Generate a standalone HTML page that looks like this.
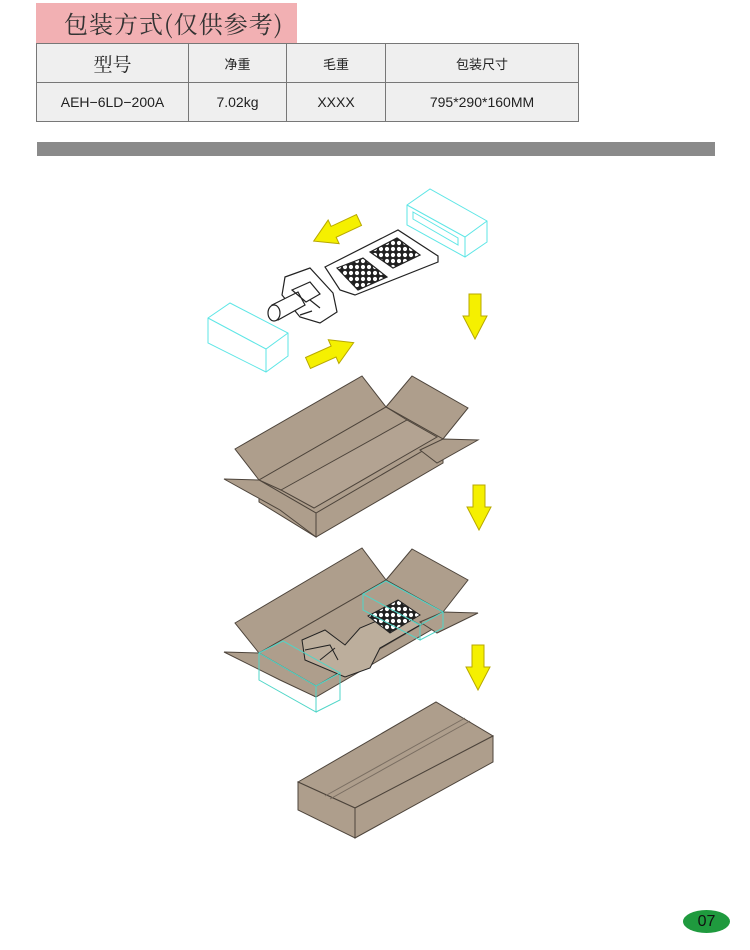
<!DOCTYPE html>
<html><head><meta charset="utf-8"><style>
body{margin:0;background:#fff;width:750px;height:950px;position:relative;overflow:hidden;font-family:"Liberation Sans","Noto Sans CJK SC",sans-serif}
.pk{position:absolute;left:36px;top:3px;width:261px;height:40px;background:#f2b0b3;font-family:"Noto Serif CJK SC",serif;font-size:24px;color:#333;line-height:40px;padding-left:28px;box-sizing:border-box;letter-spacing:1px}
table{position:absolute;left:36px;top:43px;border-collapse:collapse;background:#efefef}
td{border:1px solid #777;text-align:center;color:#222;padding:0}
.g{position:absolute;left:37px;top:142px;width:678px;height:14px;background:#8a8a8a}
.pn{position:absolute;left:683px;top:910px;width:47px;height:23px;border-radius:50%;background:#1f9a3e;color:#111;text-align:center;line-height:23px;font-size:16px}
</style></head><body>
<div class="pk">包装方式(仅供参考)</div>
<table>
<tr style="height:39px"><td style="width:151px;font-size:19px;font-family:'Noto Serif CJK SC',serif">型号</td><td style="width:97px;font-size:13px">净重</td><td style="width:98px;font-size:13px">毛重</td><td style="width:192px;font-size:13px">包装尺寸</td></tr>
<tr style="height:39px;font-size:14px"><td>AEH−6LD−200A</td><td>7.02kg</td><td>XXXX</td><td>795*290*160MM</td></tr>
</table>
<div class="g"></div>
<svg width="750" height="950" style="position:absolute;left:0;top:0">
<defs>
<g id="ad"><polygon points="-6,0 6,0 6,22 12,22 0,45 -12,22 -6,22" fill="#f5f000" stroke="#b8a800" stroke-width="1"/></g>
<g id="ar"><polygon points="0,-6 28,-6 28,-13 50,0 28,13 28,6 0,6" fill="#f5f000" stroke="#b8a800" stroke-width="1"/></g>
<pattern id="led" width="6" height="6" patternUnits="userSpaceOnUse"><rect width="6" height="6" fill="#222"/><circle cx="3" cy="3" r="2.1" fill="#fff"/></pattern>
</defs>
<!-- cyan boxes -->
<g fill="none" stroke="#5ee6e6" stroke-width="1">
<polygon points="407,205 430,189 487,221 487,242 465,257 407,225"/><polyline points="407,205 465,237 487,221"/><line x1="465" y1="237" x2="465" y2="257"/>
<polygon points="413,212 458,238 458,245 413,219"/>
<polygon points="208,318 230,303 288,333 288,356 266,372 208,343"/><polyline points="208,318 266,349 288,333"/><line x1="266" y1="349" x2="266" y2="372"/>
</g>
<!-- arrows -->
<use href="#ar" transform="translate(359,220) rotate(155)"/>
<use href="#ar" transform="translate(308,363) rotate(-24)"/>
<use href="#ad" x="475" y="294"/><use href="#ad" x="479" y="485"/><use href="#ad" x="478" y="645"/>
<!-- lamp -->
<g fill="#fff" stroke="#222" stroke-width="1.2">
<polygon points="325,267 398,230 438,256 438,262 355,295 340,290"/>
<polygon points="285,277 310,268 333,293 337,312 320,323 300,317 282,295"/>
<polygon points="272,305 298,292 305,305 278,320"/>
<ellipse cx="274" cy="313" rx="6" ry="8"/>
<polygon points="337,268 363,258 387,277 358,290" fill="url(#led)"/>
<polygon points="370,252 397,238 420,255 393,268" fill="url(#led)"/>
<path d="M292,290l18,-8l10,12l-14,8z" fill="none"/>
<path d="M310,300l10,8M300,315l12,-4" fill="none"/>
</g>
<!-- open box -->
<g fill="#ae9e8c" stroke="#4d443b" stroke-width="1">
<polygon points="259,502 316,537 443,463 443,440 259,480"/>
<polygon points="235,449 362,376 386,407 259,480"/>
<polygon points="386,407 412,376 468,408 443,439"/>
<polygon points="259,480 386,407 443,439 316,513"/>
<polygon points="281,490 407,420 437,437 314,508" fill="#b3a392"/>
<line x1="259" y1="480" x2="281" y2="490"/><line x1="386" y1="407" x2="407" y2="420"/>
<polygon points="420,450 443,439 478,440 437,463"/>
<polygon points="224,479 259,480 316,513 316,537 280,510"/>
</g>
<!-- filled box -->
<g fill="#ae9e8c" stroke="#4d443b" stroke-width="1">
<polygon points="259,662 316,697 443,623 443,615 259,653"/>
<polygon points="235,623 362,548 386,580 259,653"/>
<polygon points="386,580 412,549 468,580 443,612"/>
<polygon points="259,653 386,580 443,612 316,686"/>
<polygon points="420,622 443,612 478,613 437,633"/>
<polygon points="224,652 259,653 316,686 316,697 280,680"/>
</g>
<g fill="#bcae9c" stroke="#222" stroke-width="1">
<polygon points="302,640 325,630 345,645 360,628 398,612 420,625 380,648 370,668 345,677 305,660"/>
<polygon points="368,616 398,600 420,615 390,633" fill="url(#led)"/>
<path d="M305,650l25,-5l8,15M320,660l15,-12" fill="none"/>
</g>
<g fill="none" stroke="#4fd6c8" stroke-width="1">
<polygon points="259,653 283,641 340,673 316,686"/><polyline points="259,653 259,680 316,712 316,686"/><polyline points="340,673 340,700 316,712"/>
<polygon points="363,594 386,581 443,612 420,625"/><polyline points="363,594 363,610 420,640 420,625"/><polyline points="443,612 443,628 420,640"/>
</g>
<!-- closed box -->
<g fill="#ae9e8c" stroke="#4d443b" stroke-width="1">
<polygon points="298,782 436,702 493,736 355,808"/>
<polygon points="298,782 355,808 355,838 298,810"/>
<polygon points="355,808 493,736 493,762 355,838"/>
<path d="M325,796L465,718M330,799L470,721" fill="none" stroke="#7a6e62"/>
</g>
</svg>
<div class="pn">07</div>
</body></html>
